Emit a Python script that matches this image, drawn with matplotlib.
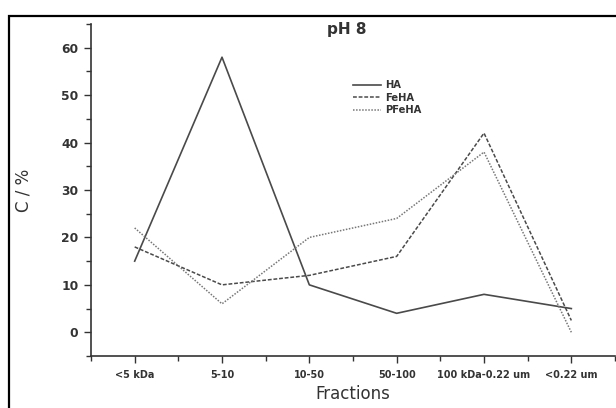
import matplotlib
matplotlib.use("Agg")
import matplotlib.pyplot as plt
from matplotlib.patches import Rectangle
from matplotlib.ticker import MultipleLocator

fractions = ["<5 kDa", "5-10", "10-50", "50-100", "100 kDa-0.22 um", "<0.22 um"]
ha = [15, 58, 10, 4, 8, 5]
feha = [18, 10, 12, 16, 42, 2.5]
pfeha = [22, 6, 20, 24, 38, 0]

plt.rcParams["font.family"] = ["DejaVu Sans"]

fig = plt.figure(figsize=(6.16, 4.08), dpi=100)
# outer frame of the original figure, open at right and bottom
fig.patches.append(Rectangle((9 / 616, -0.1), 1.2, 1 - 16 / 408 + 0.1,
                             transform=fig.transFigure, fill=False,
                             edgecolor="black", linewidth=1.6))

ax = fig.add_axes([91 / 616, 52 / 408, 524 / 616, 332 / 408])
x = range(len(fractions))
ax.plot(x, ha, color="#4a4a4a", linestyle="-", linewidth=1.2, label="HA")
ax.plot(x, feha, color="#4a4a4a", linestyle=(0, (2.5, 1.2)), linewidth=1.1, label="FeHA")
ax.plot(x, pfeha, color="#777777", linestyle=(0, (1, 1)), linewidth=1.1, label="PFeHA")

ax.set_xlim(-0.5, 5.5)
ax.set_ylim(-5, 65)
ax.set_xticks(list(x))
ax.set_xticklabels(fractions, fontsize=7, fontweight="bold", color="#333333")
ax.xaxis.set_minor_locator(MultipleLocator(0.5))
ax.set_yticks(range(0, 61, 10))
ax.yaxis.set_minor_locator(MultipleLocator(5))
ax.tick_params(axis="y", labelsize=8.8, labelcolor="#333333", pad=4)
ax.tick_params(axis="x", pad=5)
for lab in ax.get_yticklabels():
    lab.set_fontweight("bold")
ax.tick_params(which="major", direction="out", length=5, width=1.0, color="#333333")
ax.tick_params(which="minor", direction="out", length=3.5, width=1.0, color="#333333")

for s in ["top", "right"]:
    ax.spines[s].set_visible(False)
for s in ["left", "bottom"]:
    ax.spines[s].set_linewidth(1.2)
    ax.spines[s].set_color("#333333")

ax.set_ylabel("C / %", fontsize=12, color="#333333", labelpad=21)
ax.set_xlabel("Fractions", fontsize=12, color="#333333", labelpad=4)
ax.text(0.489, 0.982, "pH 8", transform=ax.transAxes, ha="center", va="center",
        fontsize=11, fontweight="bold", color="#333333")

ax.legend(loc="upper left", bbox_to_anchor=(0.49, 0.845), frameon=False,
          prop={"size": 7.2, "weight": "bold"}, handlelength=2.8,
          handletextpad=0.4, labelspacing=0.25, borderpad=0,
          labelcolor="#333333")

fig.savefig("out.png", dpi=100)
